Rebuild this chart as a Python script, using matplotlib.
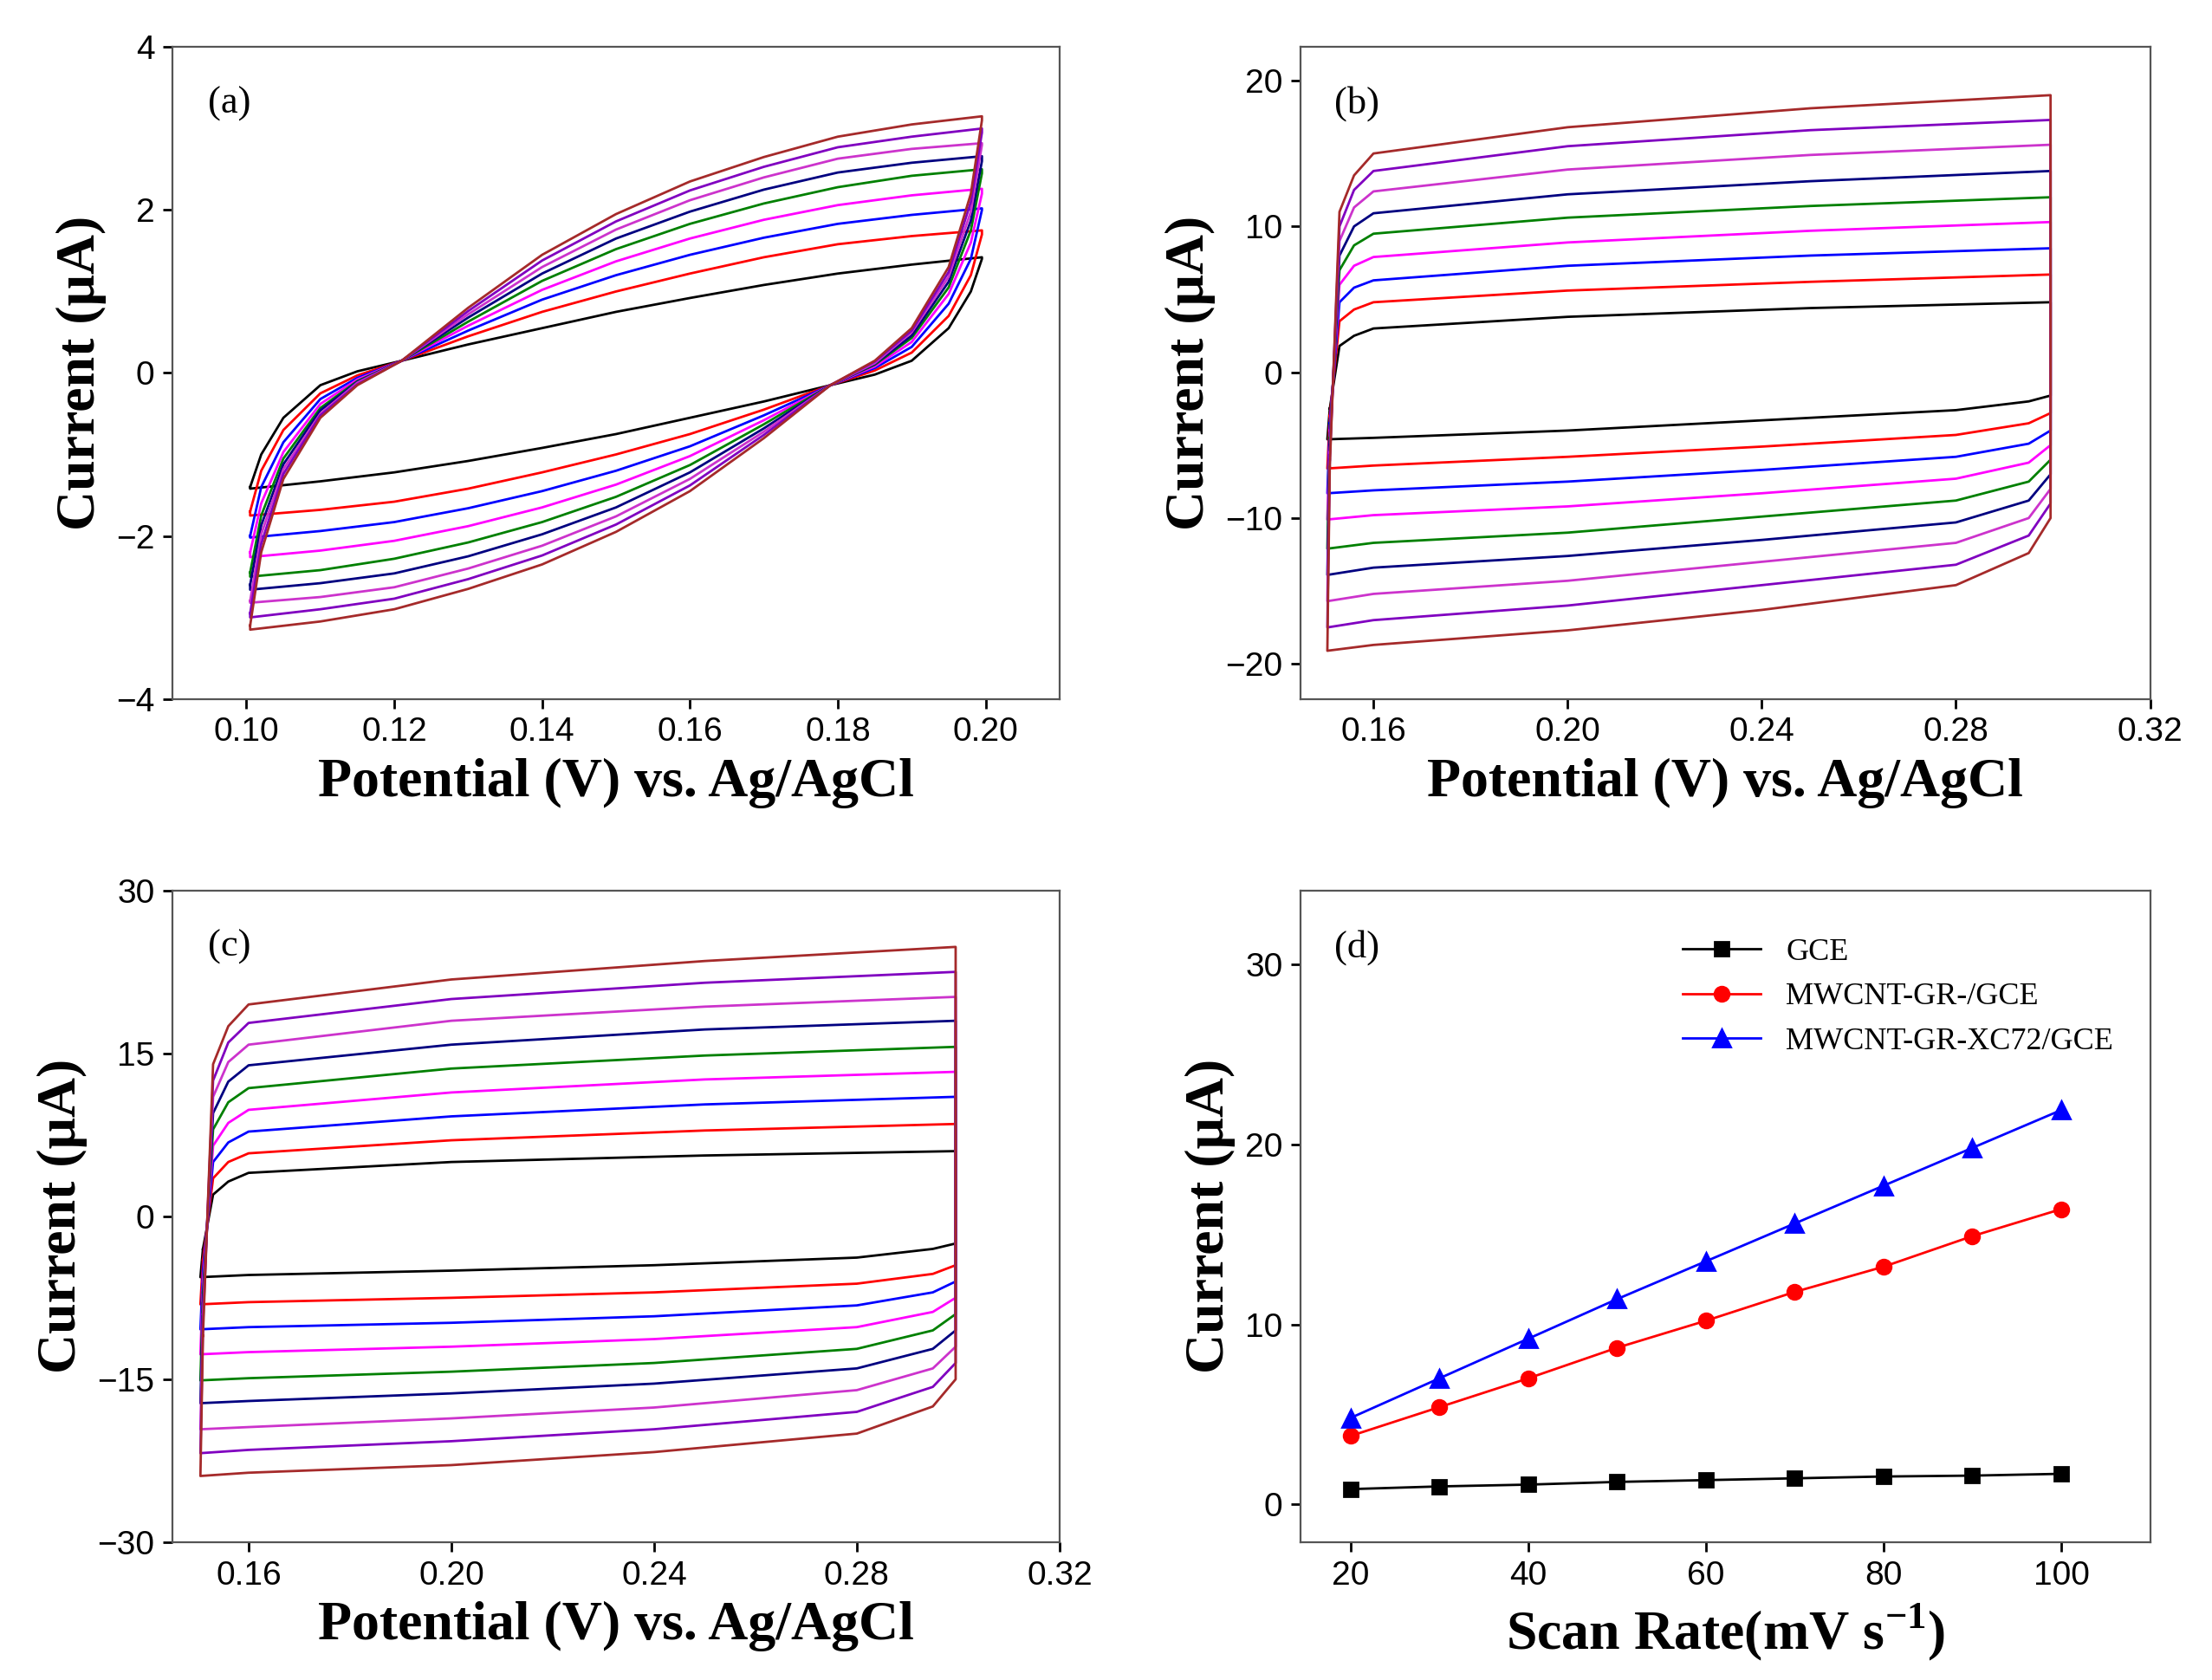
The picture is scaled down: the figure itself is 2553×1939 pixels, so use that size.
import numpy as np
import matplotlib.pyplot as plt

colors = ['black', 'red', 'blue', 'magenta', 'green', 'navy', '#cc33cc', '#8000c0', '#a52a2a']

# panel (a): forward branch, lower branch is point-mirrored about (0.15, 0)
xa = [0.1005, 0.102, 0.105, 0.11, 0.115, 0.121, 0.13, 0.14, 0.15, 0.16, 0.17, 0.18, 0.19, 0.1995]
ya = [
    [-1.40, -1.00, -0.55, -0.15, 0.02, 0.15, 0.35, 0.55, 0.75, 0.92, 1.08, 1.22, 1.33, 1.42],
    [-1.70, -1.20, -0.70, -0.25, -0.03, 0.15, 0.45, 0.75, 1.00, 1.22, 1.42, 1.58, 1.68, 1.75],
    [-2.00, -1.40, -0.85, -0.32, -0.06, 0.15, 0.52, 0.90, 1.20, 1.45, 1.66, 1.83, 1.94, 2.02],
    [-2.20, -1.60, -0.97, -0.38, -0.08, 0.15, 0.58, 1.02, 1.37, 1.65, 1.88, 2.06, 2.18, 2.26],
    [-2.45, -1.75, -1.05, -0.43, -0.10, 0.15, 0.63, 1.13, 1.52, 1.83, 2.08, 2.28, 2.42, 2.50],
    [-2.60, -1.87, -1.12, -0.46, -0.11, 0.15, 0.68, 1.22, 1.65, 1.98, 2.25, 2.46, 2.58, 2.66],
    [-2.80, -1.98, -1.18, -0.50, -0.12, 0.15, 0.72, 1.30, 1.76, 2.12, 2.40, 2.63, 2.75, 2.82],
    [-2.95, -2.10, -1.24, -0.52, -0.14, 0.15, 0.76, 1.38, 1.86, 2.24, 2.53, 2.77, 2.90, 3.00],
    [-3.10, -2.20, -1.30, -0.55, -0.15, 0.15, 0.80, 1.45, 1.95, 2.35, 2.65, 2.90, 3.05, 3.15],
]

# panel (b)
xb_up = [0.151, 0.153, 0.156, 0.16, 0.2, 0.25, 0.2995]
yb_up = [
    [-2.5, 1.8, 2.5, 3.0, 3.8, 4.4, 4.8],
    [-3.0, 3.5, 4.3, 4.8, 5.6, 6.2, 6.7],
    [-3.5, 4.8, 5.8, 6.3, 7.3, 8.0, 8.5],
    [-4.0, 6.0, 7.3, 7.9, 8.9, 9.7, 10.3],
    [-4.5, 7.0, 8.7, 9.5, 10.6, 11.4, 12.0],
    [-5.0, 8.0, 10.0, 10.9, 12.2, 13.1, 13.8],
    [-5.5, 9.0, 11.3, 12.4, 13.9, 14.9, 15.6],
    [-6.0, 10.0, 12.5, 13.8, 15.5, 16.6, 17.3],
    [-6.5, 11.0, 13.5, 15.0, 16.8, 18.1, 19.0],
]
xb_lo = [0.2995, 0.295, 0.28, 0.24, 0.2, 0.16, 0.1505]
yb_lo = [
    [-1.6, -2.0, -2.6, -3.3, -4.0, -4.5, -4.6],
    [-2.8, -3.5, -4.3, -5.1, -5.8, -6.4, -6.6],
    [-4.0, -4.9, -5.8, -6.7, -7.5, -8.1, -8.3],
    [-5.0, -6.2, -7.3, -8.3, -9.2, -9.8, -10.1],
    [-6.0, -7.5, -8.8, -9.9, -11.0, -11.7, -12.1],
    [-7.0, -8.8, -10.3, -11.5, -12.6, -13.4, -13.9],
    [-8.0, -10.0, -11.7, -13.0, -14.3, -15.2, -15.7],
    [-9.0, -11.2, -13.2, -14.6, -16.0, -17.0, -17.5],
    [-10.0, -12.4, -14.6, -16.3, -17.7, -18.7, -19.1],
]

# panel (c)
xc_up = xb_up
yc_up = [
    [-3, 2.0, 3.2, 4.0, 5.0, 5.6, 6.0],
    [-4, 3.5, 5.0, 5.8, 7.0, 7.9, 8.5],
    [-5, 5.0, 6.8, 7.8, 9.2, 10.3, 11.0],
    [-6, 6.5, 8.6, 9.8, 11.4, 12.6, 13.3],
    [-7, 8.0, 10.5, 11.8, 13.6, 14.8, 15.6],
    [-8, 9.5, 12.4, 13.9, 15.8, 17.2, 18.0],
    [-9, 11.0, 14.2, 15.8, 18.0, 19.3, 20.2],
    [-10, 12.5, 16.0, 17.8, 20.0, 21.5, 22.5],
    [-11, 14.0, 17.5, 19.5, 21.8, 23.5, 24.8],
]
xc_lo = [0.2995, 0.295, 0.28, 0.24, 0.2, 0.16, 0.1505]
yc_lo = [
    [-2.5, -3.0, -3.8, -4.5, -5.0, -5.4, -5.6],
    [-4.5, -5.3, -6.2, -7.0, -7.5, -7.9, -8.1],
    [-6.0, -7.0, -8.2, -9.2, -9.8, -10.2, -10.4],
    [-7.5, -8.8, -10.2, -11.3, -12.0, -12.5, -12.7],
    [-9.0, -10.5, -12.2, -13.5, -14.3, -14.9, -15.1],
    [-10.5, -12.2, -14.0, -15.4, -16.3, -17.0, -17.2],
    [-12.0, -14.0, -16.0, -17.6, -18.6, -19.4, -19.6],
    [-13.5, -15.7, -18.0, -19.6, -20.7, -21.5, -21.8],
    [-15.0, -17.5, -20.0, -21.7, -22.9, -23.6, -23.9],
]

# panel (d)
scan_rate = [20, 30, 40, 50, 60, 70, 80, 90, 100]
gce = [0.85, 1.0, 1.1, 1.25, 1.35, 1.45, 1.55, 1.6, 1.7]
mwcnt_gr = [3.8, 5.4, 7.0, 8.7, 10.2, 11.8, 13.2, 14.9, 16.4]
mwcnt_gr_xc72 = [4.8, 7.0, 9.2, 11.4, 13.5, 15.6, 17.7, 19.8, 21.9]

serif = 'Liberation Serif'
plt.rcParams['font.family'] = 'Liberation Sans'
plt.rcParams['xtick.labelsize'] = 14
plt.rcParams['ytick.labelsize'] = 14
plt.rcParams['mathtext.fontset'] = 'custom'
plt.rcParams['mathtext.rm'] = 'Liberation Serif:bold'
plt.rcParams['mathtext.bf'] = 'Liberation Serif:bold'

fig = plt.figure(figsize=(12.765, 9.695), dpi=200)
axa = fig.add_axes([0.078, 0.584, 0.401, 0.388])
axb = fig.add_axes([0.588, 0.584, 0.384, 0.388])
axc = fig.add_axes([0.078, 0.082, 0.401, 0.388])
axd = fig.add_axes([0.588, 0.082, 0.384, 0.388])

for i, c in enumerate(colors):
    x_lo = [0.3 - v for v in xa]
    y_lo = [-v for v in ya[i]]
    axa.plot(xa + x_lo + [xa[0]], ya[i] + y_lo + [ya[i][0]], color=c, lw=1)
    axb.plot(xb_up + xb_lo + [xb_up[0]], yb_up[i] + yb_lo[i] + [yb_up[i][0]], color=c, lw=1)
    axc.plot(xc_up + xc_lo + [xc_up[0]], yc_up[i] + yc_lo[i] + [yc_up[i][0]], color=c, lw=1)

axd.plot(scan_rate, gce, 's-', color='black', ms=6, lw=1, label='GCE')
axd.plot(scan_rate, mwcnt_gr, 'o-', color='red', ms=6, lw=1, label='MWCNT-GR-/GCE')
axd.plot(scan_rate, mwcnt_gr_xc72, '^-', color='blue', ms=7, lw=1, label='MWCNT-GR-XC72/GCE')
axd.legend(loc='upper right', frameon=False, prop={'family': serif, 'size': 13},
           bbox_to_anchor=(0.99, 0.97), handlelength=2.5)

axa.set_xlim(0.09, 0.21); axa.set_ylim(-4, 4)
axa.set_xticks([0.10, 0.12, 0.14, 0.16, 0.18, 0.20]); axa.set_yticks([-4, -2, 0, 2, 4])
axb.set_xlim(0.145, 0.32); axb.set_ylim(-22.4, 22.3)
axb.set_xticks([0.16, 0.20, 0.24, 0.28, 0.32]); axb.set_yticks([-20, -10, 0, 10, 20])
axc.set_xlim(0.145, 0.32); axc.set_ylim(-30, 30)
axc.set_xticks([0.16, 0.20, 0.24, 0.28, 0.32]); axc.set_yticks([-30, -15, 0, 15, 30])
axd.set_xlim(14.4, 110); axd.set_ylim(-2.1, 34.1)
axd.set_xticks(range(20, 101, 20)); axd.set_yticks([0, 10, 20, 30])

for ax, lab in zip([axa, axb, axc, axd], ['(a)', '(b)', '(c)', '(d)']):
    ax.tick_params(direction='out', length=4, width=1)
    for s in ax.spines.values():
        s.set_color('#555555')
    ax.text(0.04, 0.94, lab, transform=ax.transAxes, family=serif, fontsize=16, va='top')
    ax.set_ylabel('Current (μA)', family=serif, fontsize=23, fontweight='bold')
    if ax is axd:
        ax.set_xlabel('Scan Rate(mV s$^{\\mathbf{-1}}$)', family=serif, fontsize=23, fontweight='bold')
        ax.set_xticklabels([f'{v}' for v in range(20, 101, 20)])
    else:
        ax.set_xlabel('Potential (V) vs. Ag/AgCl', family=serif, fontsize=23, fontweight='bold')
        ax.set_xticklabels([f'{v:.2f}' for v in ax.get_xticks()])

fig.savefig('out.png', dpi=200)
